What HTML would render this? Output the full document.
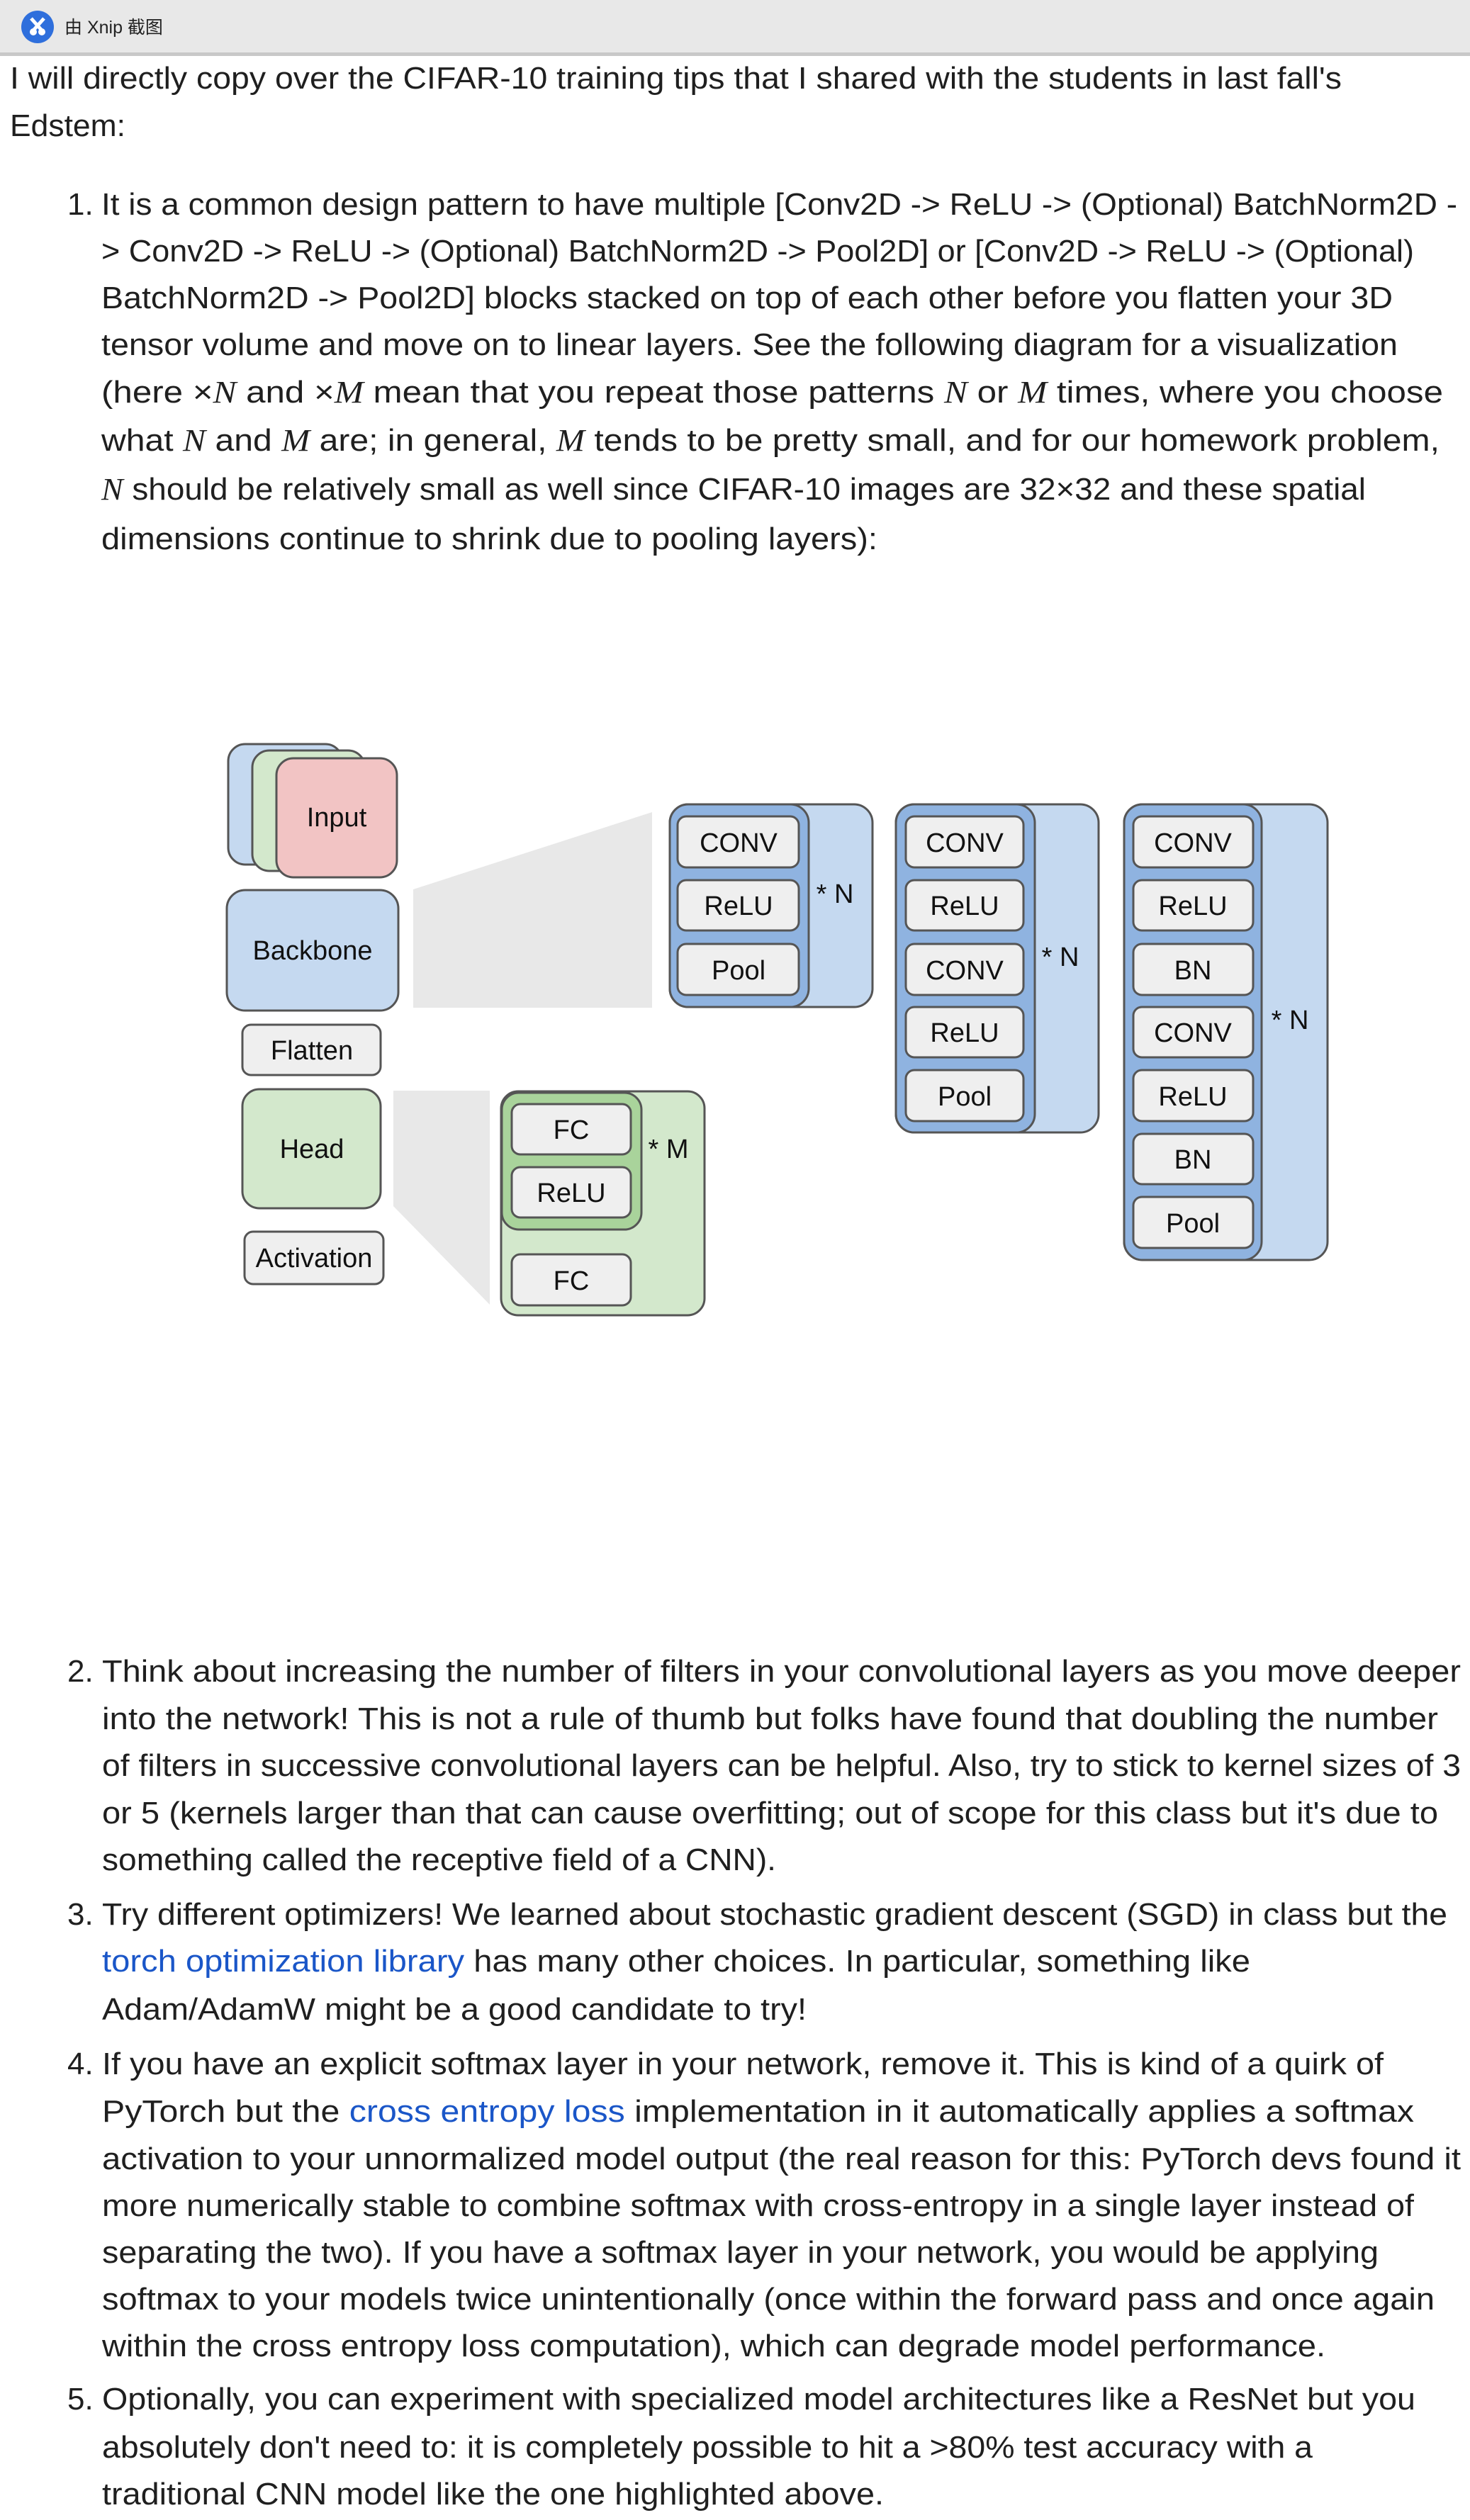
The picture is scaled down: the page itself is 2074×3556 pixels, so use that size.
<!DOCTYPE html>
<html><head><meta charset="utf-8"><style>
html,body{margin:0;padding:0;background:#fff;}
svg{display:block;}
.t{font-family:"Liberation Sans",sans-serif;font-size:44px;fill:#1f1f1f;}
.m{font-family:"Liberation Serif",serif;font-style:italic;}
.l{fill:#1a56c8;}
.d{font-family:"Liberation Sans",sans-serif;font-size:38px;fill:#111;text-anchor:middle;}
.bx{fill:#efefef;stroke:#555;stroke-width:3;}
</style></head><body>
<svg width="2074" height="3556" viewBox="0 0 2074 3556" xmlns="http://www.w3.org/2000/svg">
<rect x="0" y="0" width="2074" height="74" fill="#e8e8e8"/>
<rect x="0" y="74" width="2074" height="5" fill="#c8c8c8"/>
<circle cx="53" cy="38" r="23" fill="#2f6fdc"/>
<circle cx="47" cy="45" r="5" fill="#fff"/><circle cx="59" cy="45" r="5" fill="#fff"/>
<path d="M44 26 L60 44 M62 26 L46 44" stroke="#fff" stroke-width="5"/>
<text x="91" y="47" font-family="'Liberation Sans','Noto Sans CJK SC',sans-serif" font-size="25" fill="#222">由 Xnip 截图</text>

<g class="t">
<text x="14" y="125" textLength="1879" lengthAdjust="spacingAndGlyphs">I will directly copy over the CIFAR-10 training tips that I shared with the students in last fall's</text>
<text x="14" y="192" textLength="163" lengthAdjust="spacingAndGlyphs">Edstem:</text>

<text x="95" y="303">1.</text>
<text x="143" y="303" textLength="1913" lengthAdjust="spacingAndGlyphs">It is a common design pattern to have multiple [Conv2D -&gt; ReLU -&gt; (Optional) BatchNorm2D -</text>
<text x="143" y="369" textLength="1852" lengthAdjust="spacingAndGlyphs">&gt; Conv2D -&gt; ReLU -&gt; (Optional) BatchNorm2D -&gt; Pool2D] or [Conv2D -&gt; ReLU -&gt; (Optional)</text>
<text x="143" y="435" textLength="1822" lengthAdjust="spacingAndGlyphs">BatchNorm2D -&gt; Pool2D] blocks stacked on top of each other before you flatten your 3D</text>
<text x="143" y="501" textLength="1829" lengthAdjust="spacingAndGlyphs">tensor volume and move on to linear layers. See the following diagram for a visualization</text>
<text x="143" y="568" textLength="1893" lengthAdjust="spacingAndGlyphs">(here ×<tspan class="m">N</tspan> and ×<tspan class="m">M</tspan> mean that you repeat those patterns <tspan class="m">N</tspan> or <tspan class="m">M</tspan> times, where you choose</text>
<text x="143" y="636" textLength="1888" lengthAdjust="spacingAndGlyphs">what <tspan class="m">N</tspan> and <tspan class="m">M</tspan> are; in general, <tspan class="m">M</tspan> tends to be pretty small, and for our homework problem,</text>
<text x="143" y="705" textLength="1784" lengthAdjust="spacingAndGlyphs"><tspan class="m">N</tspan> should be relatively small as well since CIFAR-10 images are 32×32 and these spatial</text>
<text x="143" y="775" textLength="1095" lengthAdjust="spacingAndGlyphs">dimensions continue to shrink due to pooling layers):</text>

<text x="95" y="2373">2.</text>
<text x="144" y="2373" textLength="1917" lengthAdjust="spacingAndGlyphs">Think about increasing the number of filters in your convolutional layers as you move deeper</text>
<text x="144" y="2440" textLength="1885" lengthAdjust="spacingAndGlyphs">into the network! This is not a rule of thumb but folks have found that doubling the number</text>
<text x="144" y="2506" textLength="1917" lengthAdjust="spacingAndGlyphs">of filters in successive convolutional layers can be helpful. Also, try to stick to kernel sizes of 3</text>
<text x="144" y="2573" textLength="1885" lengthAdjust="spacingAndGlyphs">or 5 (kernels larger than that can cause overfitting; out of scope for this class but it's due to</text>
<text x="144" y="2639" textLength="951" lengthAdjust="spacingAndGlyphs">something called the receptive field of a CNN).</text>

<text x="95" y="2716">3.</text>
<text x="144" y="2716" textLength="1898" lengthAdjust="spacingAndGlyphs">Try different optimizers! We learned about stochastic gradient descent (SGD) in class but the</text>
<text x="144" y="2782" textLength="1620" lengthAdjust="spacingAndGlyphs"><tspan class="l">torch optimization library</tspan> has many other choices. In particular, something like</text>
<text x="144" y="2850" textLength="994" lengthAdjust="spacingAndGlyphs">Adam/AdamW might be a good candidate to try!</text>

<text x="95" y="2927">4.</text>
<text x="144" y="2927" textLength="1808" lengthAdjust="spacingAndGlyphs">If you have an explicit softmax layer in your network, remove it. This is kind of a quirk of</text>
<text x="144" y="2994" textLength="1851" lengthAdjust="spacingAndGlyphs">PyTorch but the <tspan class="l">cross entropy loss</tspan> implementation in it automatically applies a softmax</text>
<text x="144" y="3061" textLength="1917" lengthAdjust="spacingAndGlyphs">activation to your unnormalized model output (the real reason for this: PyTorch devs found it</text>
<text x="144" y="3127" textLength="1851" lengthAdjust="spacingAndGlyphs">more numerically stable to combine softmax with cross-entropy in a single layer instead of</text>
<text x="144" y="3193" textLength="1801" lengthAdjust="spacingAndGlyphs">separating the two). If you have a softmax layer in your network, you would be applying</text>
<text x="144" y="3259" textLength="1880" lengthAdjust="spacingAndGlyphs">softmax to your models twice unintentionally (once within the forward pass and once again</text>
<text x="144" y="3325" textLength="1726" lengthAdjust="spacingAndGlyphs">within the cross entropy loss computation), which can degrade model performance.</text>

<text x="95" y="3400">5.</text>
<text x="144" y="3400" textLength="1853" lengthAdjust="spacingAndGlyphs">Optionally, you can experiment with specialized model architectures like a ResNet but you</text>
<text x="144" y="3468" textLength="1708" lengthAdjust="spacingAndGlyphs">absolutely don't need to: it is completely possible to hit a &gt;80% test accuracy with a</text>
<text x="144" y="3534" textLength="1103" lengthAdjust="spacingAndGlyphs">traditional CNN model like the one highlighted above.</text>
</g>

<!-- diagram -->
<polygon points="583,1255 920,1146 920,1422 583,1422" fill="#e8e8e8"/>
<polygon points="555,1539 691,1539 691,1841 555,1702" fill="#e8e8e8"/>

<rect x="322" y="1050" width="161" height="170" rx="24" fill="#c5d9f0" stroke="#555" stroke-width="3"/>
<rect x="356" y="1059" width="159" height="170" rx="24" fill="#d3e8cc" stroke="#555" stroke-width="3"/>
<rect x="390" y="1070" width="170" height="168" rx="24" fill="#f2c4c4" stroke="#555" stroke-width="3"/>
<text class="d" x="475" y="1166">Input</text>
<rect x="320" y="1256" width="242" height="170" rx="26" fill="#c5d9f0" stroke="#555" stroke-width="3"/>
<text class="d" x="441" y="1354">Backbone</text>
<rect x="342" y="1446" width="195" height="71" rx="12" class="bx"/>
<text class="d" x="440" y="1495">Flatten</text>
<rect x="342" y="1537" width="195" height="168" rx="24" fill="#d3e8cc" stroke="#555" stroke-width="3"/>
<text class="d" x="440" y="1634">Head</text>
<rect x="345" y="1738" width="196" height="74" rx="12" class="bx"/>
<text class="d" x="443" y="1788" font-size="34">Activation</text>

<rect x="707" y="1540" width="287" height="316" rx="24" fill="#d3e8cc" stroke="#555" stroke-width="3"/>
<rect x="708" y="1542" width="197" height="193" rx="24" fill="#a9d39b" stroke="#555" stroke-width="3"/>
<rect x="722" y="1558" width="168" height="71" rx="12" class="bx"/><text class="d" x="806" y="1607">FC</text>
<rect x="722" y="1647" width="168" height="71" rx="12" class="bx"/><text class="d" x="806" y="1696">ReLU</text>
<rect x="722" y="1770" width="168" height="72" rx="12" class="bx"/><text class="d" x="806" y="1820">FC</text>
<text class="d" x="943" y="1634">* M</text>

<!-- block 1 -->
<rect x="945" y="1135" width="286" height="286" rx="26" fill="#c5d9f0" stroke="#555" stroke-width="3"/>
<rect x="945" y="1135" width="196" height="286" rx="26" fill="#8fb3e0" stroke="#555" stroke-width="3"/>
<rect x="956" y="1152" width="171" height="72" rx="12" class="bx"/><text class="d" x="1042" y="1202">CONV</text>
<rect x="956" y="1242" width="171" height="71" rx="12" class="bx"/><text class="d" x="1042" y="1291">ReLU</text>
<rect x="956" y="1332" width="171" height="72" rx="12" class="bx"/><text class="d" x="1042" y="1382">Pool</text>
<text class="d" x="1178" y="1274">* N</text>

<!-- block 2 -->
<rect x="1264" y="1135" width="286" height="463" rx="26" fill="#c5d9f0" stroke="#555" stroke-width="3"/>
<rect x="1264" y="1135" width="196" height="463" rx="26" fill="#8fb3e0" stroke="#555" stroke-width="3"/>
<rect x="1278" y="1152" width="166" height="72" rx="12" class="bx"/><text class="d" x="1361" y="1202">CONV</text>
<rect x="1278" y="1242" width="166" height="71" rx="12" class="bx"/><text class="d" x="1361" y="1291">ReLU</text>
<rect x="1278" y="1332" width="166" height="72" rx="12" class="bx"/><text class="d" x="1361" y="1382">CONV</text>
<rect x="1278" y="1421" width="166" height="71" rx="12" class="bx"/><text class="d" x="1361" y="1470">ReLU</text>
<rect x="1278" y="1510" width="166" height="72" rx="12" class="bx"/><text class="d" x="1361" y="1560">Pool</text>
<text class="d" x="1496" y="1363">* N</text>

<!-- block 3 -->
<rect x="1586" y="1135" width="287" height="643" rx="26" fill="#c5d9f0" stroke="#555" stroke-width="3"/>
<rect x="1586" y="1135" width="194" height="643" rx="26" fill="#8fb3e0" stroke="#555" stroke-width="3"/>
<rect x="1599" y="1152" width="169" height="72" rx="12" class="bx"/><text class="d" x="1683" y="1202">CONV</text>
<rect x="1599" y="1242" width="169" height="71" rx="12" class="bx"/><text class="d" x="1683" y="1291">ReLU</text>
<rect x="1599" y="1332" width="169" height="72" rx="12" class="bx"/><text class="d" x="1683" y="1382">BN</text>
<rect x="1599" y="1421" width="169" height="71" rx="12" class="bx"/><text class="d" x="1683" y="1470">CONV</text>
<rect x="1599" y="1510" width="169" height="72" rx="12" class="bx"/><text class="d" x="1683" y="1560">ReLU</text>
<rect x="1599" y="1600" width="169" height="71" rx="12" class="bx"/><text class="d" x="1683" y="1649">BN</text>
<rect x="1599" y="1689" width="169" height="72" rx="12" class="bx"/><text class="d" x="1683" y="1739">Pool</text>
<text class="d" x="1820" y="1452">* N</text>
</svg>
</body></html>
